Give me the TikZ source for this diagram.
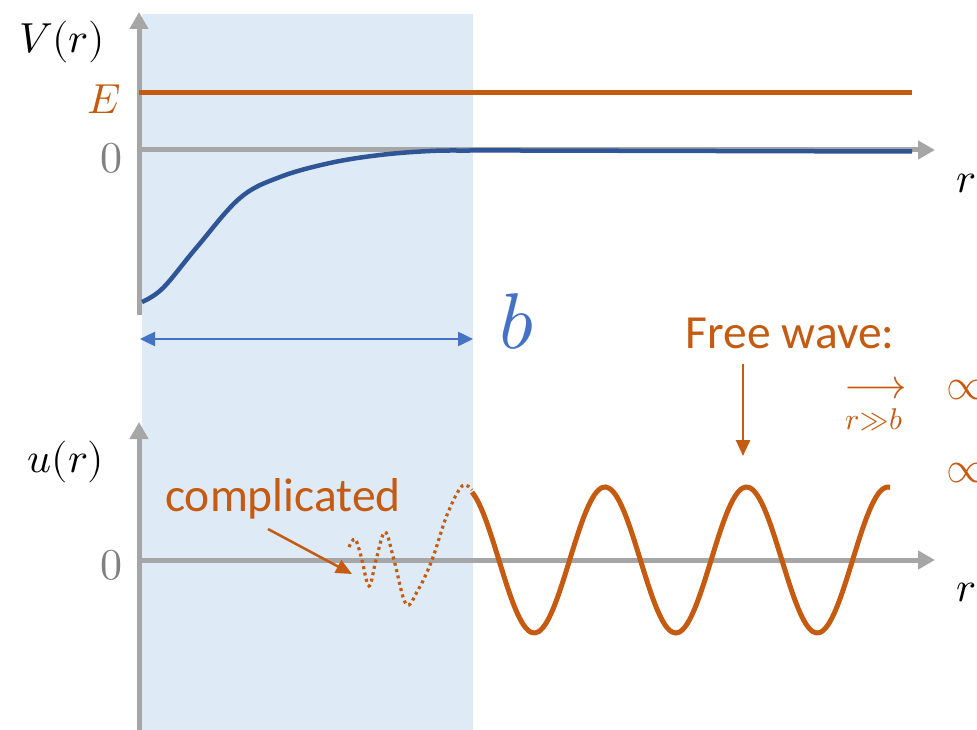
\documentclass[tikz,border=0pt]{standalone}
\usepackage{amsmath}
\usepackage{fontspec}
\usepackage{unicode-math}
\setmathfont{Latin Modern Math}
\newfontfamily\calibri{Carlito}
\usetikzlibrary{arrows.meta}
\definecolor{axgray}{HTML}{A6A6A6}
\definecolor{orng}{HTML}{C55A11}
\definecolor{dblue}{HTML}{2F5597}
\definecolor{mblue}{HTML}{4472C4}
\definecolor{shadebg}{HTML}{DEEBF7}
\tikzset{
  axis/.style={draw=axgray, line width=5pt, -{Triangle[length=17pt,width=18pt]}},
  lbl/.style={inner sep=0pt, font=\fontsize{42}{48}\selectfont},
  zero/.style={inner sep=0pt, text=gray, font=\fontsize{44}{50}\selectfont},
  sanslbl/.style={inner sep=0pt, text=orng, font=\calibri\fontsize{47.5}{54}\selectfont},
  ptr/.style={draw=orng, line width=2.5pt, -{Triangle[length=16pt,width=14pt]}},
}
\begin{document}
\begin{tikzpicture}[x=1pt,y=-1pt]
\clip (0,0) rectangle (977,730);
\fill[white] (0,0) rectangle (977,730);
% shaded region
\fill[shadebg] (142,14) rectangle (473,730);
% top axes
\coordinate (tyb) at (139,315);
\coordinate (tyt) at (139,12);
\coordinate (txl) at (137,150);
\coordinate (txr) at (935,150);
\draw[axis] (tyb) -- (tyt);
\draw[axis] (txl) -- (txr);
% E line
\coordinate (el) at (139,93);
\coordinate (er) at (912,93);
\draw[orng, line width=5pt] (el) -- (er);
% potential curve
\coordinate (v3) at (912,151.5);
\draw[dblue, line width=4.5pt] plot[smooth, tension=0.6] coordinates {(142,302) (163,288) (197,247) (240,198) (280,177) (330,163) (380,155) (430,151) (470,150.5) (520,150.5)} -- (v3);
% labels top
\node[lbl] (Vr) at (62,42) {$V(r)$};
\node[lbl, text=orng] (E) at (104,99) {$E$};
\node[zero] (z1) at (111,158) {$0$};
\node[lbl] (r1) at (966,183) {$r$};
% b arrow
\coordinate (bl) at (140,339);
\coordinate (br) at (473,339);
\draw[mblue, line width=2.5pt, {Triangle[length=15pt,width=14pt]}-{Triangle[length=15pt,width=14pt]}] (bl) -- (br);
\node[inner sep=0pt, text=mblue, font=\fontsize{79}{90}\selectfont] (b) at (517,322) {$b$};
% bottom axes
\coordinate (byb) at (139,730);
\coordinate (byt) at (139,422);
\coordinate (bxl) at (137,560);
\coordinate (bxr) at (935,560);
\draw[axis] (byb) -- (byt);
\draw[axis] (bxl) -- (bxr);
\node[lbl] (ur) at (66,462) {$u(r)$};
\node[zero] (z2) at (111,565) {$0$};
\node[lbl] (r2) at (966,592) {$r$};
% free wave
\draw[orng, line width=5pt, domain=472:890, samples=120, smooth]
  plot (\x, {560-73*cos(2.5442*(\x-605))});
% dotted complicated part
\draw[orng, line width=3.2pt, dash pattern=on 3pt off 3.5pt, smooth, tension=0.6]
  plot coordinates {(349,547) (355,539) (361,556) (369,586) (376,560) (385,532) (394,560) (406,604) (418,590) (432,560) (447,515) (462,486) (472,490)};
% labels
\node[sanslbl] (cmp) at (283,499) {complicated};
\coordinate (cs) at (268,529);
\coordinate (ce) at (352,574);
\draw[ptr] (cs) -- (ce);
\node[sanslbl] (fw) at (790,333) {Free wave:};
\coordinate (fs) at (743,364);
\coordinate (fe) at (743,456);
\draw[ptr] (fs) -- (fe);
\node[inner sep=0pt, text=orng, font=\fontsize{42}{48}\selectfont] (lim) at (876,388) {$\longrightarrow$};
\node[inner sep=0pt, text=orng, font=\fontsize{30}{34}\selectfont] (limsub) at (874,420) {$r{\gg}b$};
\node[inner sep=0pt, text=orng, anchor=west, font=\fontsize{44}{50}\selectfont] (p1) at (946,390) {$\propto$};
\node[inner sep=0pt, text=orng, anchor=west, font=\fontsize{44}{50}\selectfont] (p2) at (946,473) {$\propto$};
\end{tikzpicture}
\end{document}
